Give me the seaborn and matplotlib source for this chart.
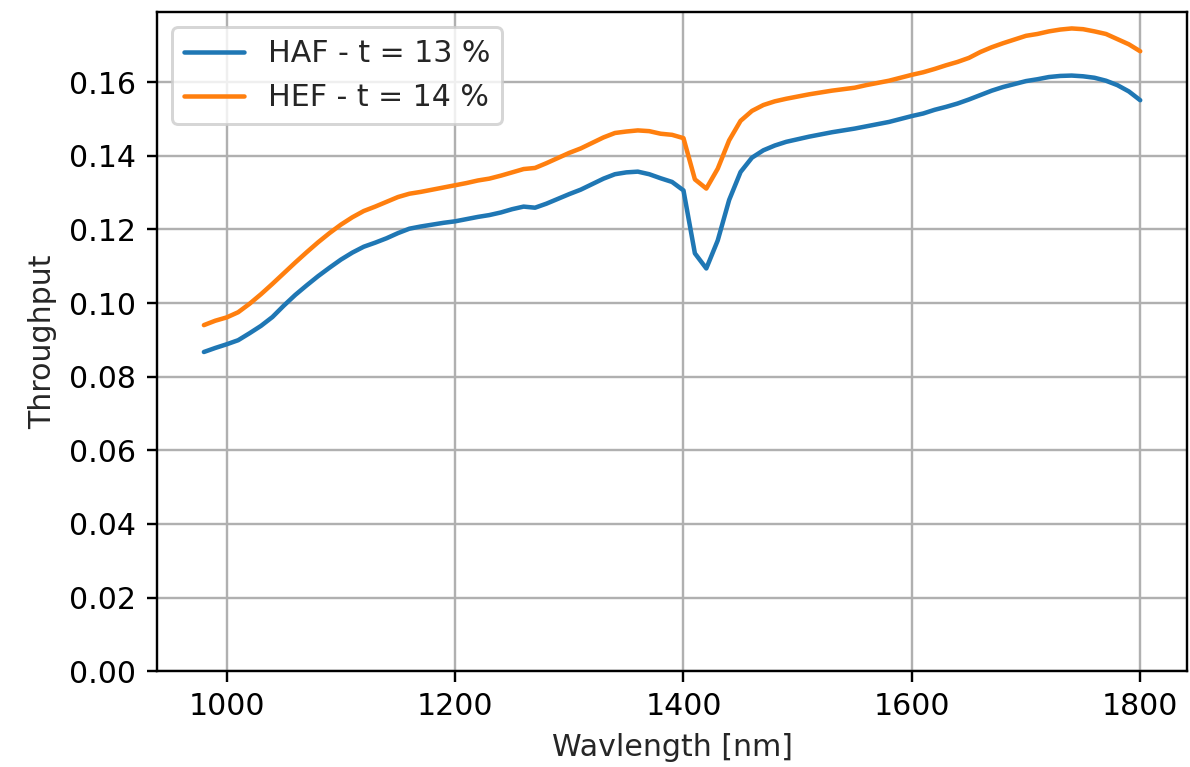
import matplotlib
matplotlib.use("Agg")
import matplotlib.pyplot as plt
import seaborn as sns
import pandas as pd

wavelength = [980, 990, 1000, 1010, 1020, 1030, 1040, 1050, 1060, 1070,
              1080, 1090, 1100, 1110, 1120, 1130, 1140, 1150, 1160, 1170,
              1180, 1190, 1200, 1210, 1220, 1230, 1240, 1250, 1260, 1270,
              1280, 1290, 1300, 1310, 1320, 1330, 1340, 1350, 1360, 1370,
              1380, 1390, 1400, 1410, 1420, 1430, 1440, 1450, 1460, 1470,
              1480, 1490, 1500, 1510, 1520, 1530, 1540, 1550, 1560, 1570,
              1580, 1590, 1600, 1610, 1620, 1630, 1640, 1650, 1660, 1670,
              1680, 1690, 1700, 1710, 1720, 1730, 1740, 1750, 1760, 1770,
              1780, 1790, 1800]

haf = [0.0867, 0.0878, 0.0888, 0.0899, 0.0918, 0.0938, 0.0962, 0.0993, 0.1022, 0.1048,
       0.1073, 0.1096, 0.1118, 0.1137, 0.1153, 0.1164, 0.1176, 0.1190, 0.1202, 0.1208,
       0.1213, 0.1218, 0.1222, 0.1228, 0.1234, 0.1239, 0.1246, 0.1255, 0.1262, 0.1259,
       0.1270, 0.1283, 0.1296, 0.1308, 0.1323, 0.1338, 0.1350, 0.1355, 0.1357, 0.1350,
       0.1339, 0.1329, 0.1306, 0.1135, 0.1094, 0.1170, 0.1280, 0.1356, 0.1395, 0.1415,
       0.1428, 0.1438, 0.1445, 0.1452, 0.1458, 0.1464, 0.1469, 0.1474, 0.1480, 0.1486,
       0.1492, 0.1500, 0.1508, 0.1515, 0.1525, 0.1533, 0.1542, 0.1553, 0.1565, 0.1577,
       0.1587, 0.1595, 0.1603, 0.1608, 0.1614, 0.1617, 0.1618, 0.1616, 0.1612, 0.1604,
       0.1592, 0.1575, 0.1551]

hef = [0.0940, 0.0952, 0.0961, 0.0975, 0.0998, 0.1024, 0.1052, 0.1081, 0.1110, 0.1138,
       0.1165, 0.1190, 0.1213, 0.1233, 0.1250, 0.1262, 0.1275, 0.1288, 0.1297, 0.1302,
       0.1308, 0.1314, 0.1320, 0.1326, 0.1333, 0.1338, 0.1346, 0.1355, 0.1364, 0.1367,
       0.1380, 0.1394, 0.1408, 0.1420, 0.1435, 0.1450, 0.1462, 0.1466, 0.1469, 0.1467,
       0.1460, 0.1457, 0.1448, 0.1336, 0.1311, 0.1365, 0.1442, 0.1495, 0.1522, 0.1538,
       0.1548, 0.1555, 0.1561, 0.1567, 0.1572, 0.1577, 0.1581, 0.1585, 0.1592, 0.1598,
       0.1604, 0.1612, 0.1620, 0.1627, 0.1636, 0.1646, 0.1655, 0.1666, 0.1682, 0.1695,
       0.1706, 0.1716, 0.1726, 0.1731, 0.1738, 0.1743, 0.1746, 0.1744, 0.1738, 0.1731,
       0.1717, 0.1703, 0.1684]

series_names = ["HAF - t = 13 %", "HEF - t = 14 %"]
colors = ["#1f77b4", "#ff7f0e"]

df = pd.concat([
    pd.DataFrame({"Wavelength": wavelength, "Throughput": haf, "series": series_names[0]}),
    pd.DataFrame({"Wavelength": wavelength, "Throughput": hef, "series": series_names[1]}),
])

sns.set_style("ticks")
plt.rcParams["font.family"] = ["DejaVu Sans"]
plt.rcParams["font.size"] = 10

dpi = 216
fig = plt.figure(figsize=(1190 / dpi, 767 / dpi), dpi=dpi)
ax = fig.add_axes([0.132, 0.125, 0.8655, 0.859])

sns.lineplot(data=df, x="Wavelength", y="Throughput", hue="series",
             palette=colors, hue_order=series_names, linewidth=1.5, ax=ax)

ax.set_ylim(bottom=0)
ax.set_xticks([1000, 1200, 1400, 1600, 1800])
ax.set_yticks([0.00, 0.02, 0.04, 0.06, 0.08, 0.10, 0.12, 0.14, 0.16])
ax.set_yticklabels([f"{v:.2f}" for v in [0.00, 0.02, 0.04, 0.06, 0.08, 0.10, 0.12, 0.14, 0.16]])
ax.grid(True, color="#b0b0b0", linewidth=0.8)
ax.set_axisbelow(True)
for s in ax.spines.values():
    s.set_visible(True)
    s.set_linewidth(0.8)
    s.set_color("black")
ax.tick_params(labelsize=10, colors="black", width=0.8, length=3.5)

ax.set_xlabel("Wavlength [nm]", fontsize=10)
ax.set_ylabel("Throughput", fontsize=10)

leg = ax.legend(loc="upper left", fontsize=10, frameon=True, framealpha=0.8,
                edgecolor="#cccccc", fancybox=True)
leg.set_title(None)

fig.savefig("out.png", dpi=dpi)
